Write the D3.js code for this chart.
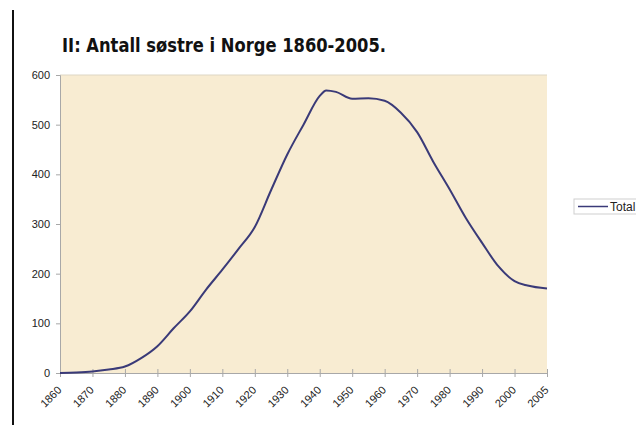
<!DOCTYPE html>
<html lang="no">
<head>
<meta charset="utf-8">
<title>Antall søstre i Norge</title>
<script src="https://d3js.org/d3.v7.min.js"></script>
<style>
  body { margin: 0; background: #fff; }
  svg { display: block; }
  text { font-family: Arial, "Liberation Sans", sans-serif; fill: #222; }
</style>
</head>
<body>
<svg id="chart" width="636" height="425"></svg>
<script>
// category labels on the x axis
const tickYears = [1860, 1870, 1880, 1890, 1900, 1910, 1920, 1930, 1940,
                   1950, 1960, 1970, 1980, 1990, 2000, 2005];
const yTicks = [0, 100, 200, 300, 400, 500, 600];

// series "Total"
const years  = [1860, 1865, 1870, 1875, 1880, 1885, 1890, 1895, 1900, 1905,
                1910, 1915, 1920, 1925, 1930, 1935, 1940, 1942, 1945, 1950,
                1955, 1960, 1965, 1970, 1975, 1980, 1985, 1990, 1995, 2000,
                2002, 2005];
const totals = [0, 1, 3, 7, 13, 30, 54, 90, 124, 168,
                208, 250, 294, 368, 440, 500, 558, 569, 566, 552,
                553, 548, 524, 485, 425, 370, 312, 262, 215, 185,
                176, 170];

const svg = d3.select("#chart");
const plotL = 60, plotR = 547, plotT = 75, plotB = 373;

// the axis is categorical: 2000-2005 gets the same width as a decade
const x = d3.scaleLinear()
  .domain([1860, 2000, 2005])
  .range([plotL, plotL + (plotR - plotL) * 14 / 15, plotR]);
const y = d3.scaleLinear().domain([0, 600]).range([plotB, plotT]);

// left page rule
svg.append("line")
  .attr("x1", 13).attr("x2", 13).attr("y1", 10).attr("y2", 425)
  .attr("stroke", "#111").attr("stroke-width", 2);

svg.append("text")
  .attr("x", 62).attr("y", 52)
  .attr("textLength", 324).attr("lengthAdjust", "spacingAndGlyphs")
  .style("font-family", "'Liberation Sans Narrow', 'DejaVu Sans Condensed', Arial, sans-serif")
  .style("font-weight", "bold").style("font-size", "19px").style("fill", "#111")
  .text("II: Antall søstre i Norge 1860-2005.");

// plot area
svg.append("rect")
  .attr("x", plotL).attr("y", plotT)
  .attr("width", plotR - plotL).attr("height", plotB - plotT)
  .attr("fill", "#f8ecd2");
svg.append("line")
  .attr("x1", plotL).attr("x2", plotR).attr("y1", plotT).attr("y2", plotT)
  .attr("stroke", "#ddd6c4");

const yAxis = svg.append("g")
  .attr("transform", `translate(${plotL},0)`)
  .call(d3.axisLeft(y).tickValues(yTicks).tickSize(4).tickPadding(6));
yAxis.select(".domain").attr("stroke", "#a8a8a8");
yAxis.selectAll(".tick line").attr("stroke", "#a8a8a8");
yAxis.selectAll("text").style("font-size", "11px").attr("fill", "#222");

const xAxis = svg.append("g")
  .attr("transform", `translate(0,${plotB})`)
  .call(d3.axisBottom(x).tickValues(tickYears).tickFormat(d3.format("d"))
    .tickSize(4).tickSizeOuter(0));
xAxis.select(".domain").attr("stroke", "#a8a8a8");
xAxis.selectAll(".tick line").attr("stroke", "#a8a8a8").attr("y1", -4);
xAxis.selectAll("text")
  .style("font-size", "11px").attr("fill", "#222")
  .attr("text-anchor", "end")
  .attr("dy", "0.35em")
  .attr("transform", "translate(-1,15) rotate(-45)")
  .attr("y", 0).attr("x", 0);

const line = d3.line()
  .x((d, i) => x(years[i]))
  .y(d => y(d))
  .curve(d3.curveMonotoneX);

svg.append("path")
  .datum(totals)
  .attr("d", line)
  .attr("fill", "none")
  .attr("stroke", "#3a3a78")
  .attr("stroke-width", 2);

// legend (runs off the right edge like in the original)
const lg = svg.append("g").attr("transform", "translate(574,199)");
lg.append("rect")
  .attr("width", 80).attr("height", 15)
  .attr("fill", "#fff").attr("stroke", "#cfcfcf");
lg.append("line")
  .attr("x1", 4).attr("x2", 34).attr("y1", 7.5).attr("y2", 7.5)
  .attr("stroke", "#3a3a78").attr("stroke-width", 1.5);
lg.append("text")
  .attr("x", 36).attr("y", 12)
  .style("font-size", "12px")
  .text("Total");
</script>
</body>
</html>
